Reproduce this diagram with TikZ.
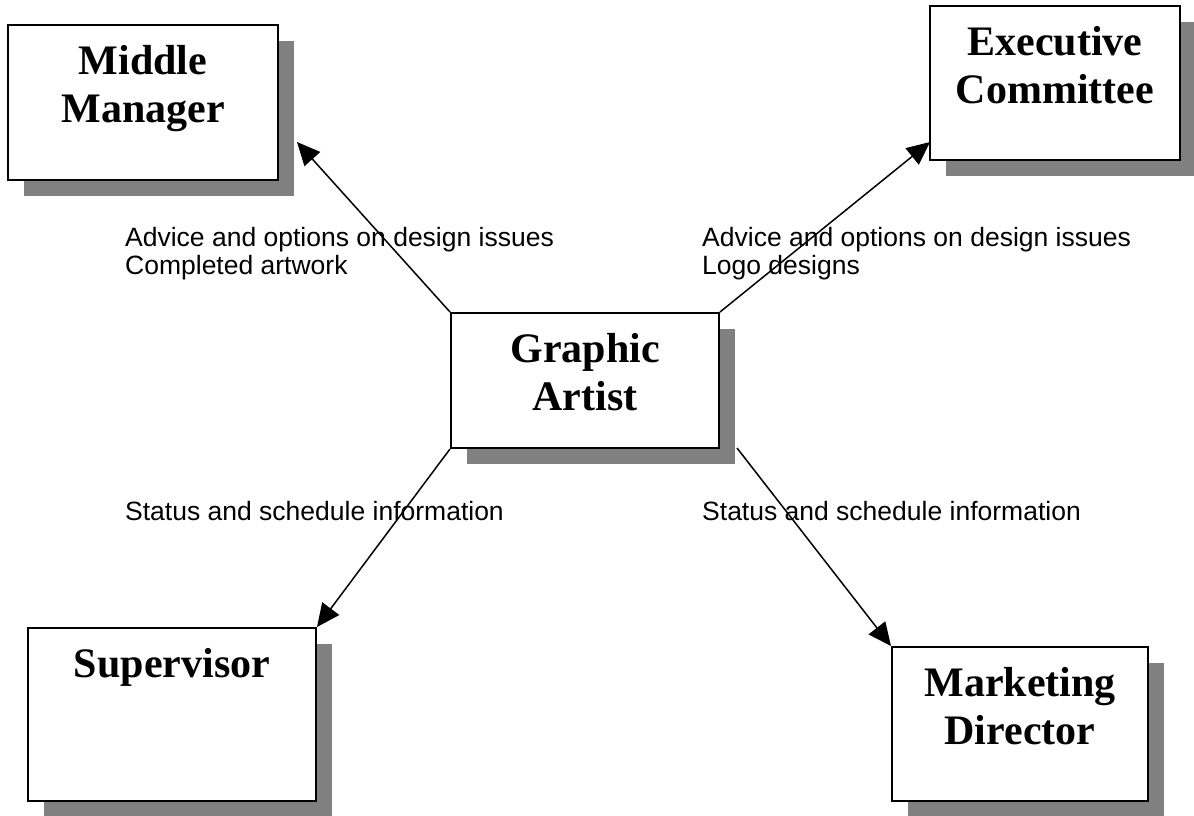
\documentclass[tikz,border=0pt]{standalone}
\usepackage{fontspec}
\setmainfont{Liberation Serif}
\newfontfamily\labelfont{Liberation Sans}
\usetikzlibrary{arrows.meta,shadows}
\tikzset{
  box/.style={draw=black, line width=2pt, fill=white, rectangle, inner sep=0pt,
    general shadow={fill=black!50, shadow xshift=16pt, shadow yshift=-16pt}},
  title/.style={anchor=north, inner sep=0pt, align=center,
    font=\fontsize{42}{48.5}\selectfont\bfseries},
  lbl/.style={anchor=north west, inner sep=0pt, align=left,
    font=\labelfont\fontsize{26.5}{28.5}\selectfont},
  conn/.style={line width=1.5pt, -{Triangle[length=23pt,width=21pt]}}
}
\begin{document}
\begin{tikzpicture}[x=1pt,y=-1pt]
\useasboundingbox (0,0) rectangle (1194,816);
% boxes
\node[box, minimum width=270pt, minimum height=155pt] (mm) at (143,102.5) {};
\node[box, minimum width=250pt, minimum height=154pt] (ec) at (1055,83) {};
\node[box, minimum width=268pt, minimum height=135pt] (ga) at (585,380.5) {};
\node[box, minimum width=288pt, minimum height=173pt] (sup) at (172,714.5) {};
\node[box, minimum width=256pt, minimum height=154pt] (md) at (1020,724) {};
% titles
\node[title] (mmt) at ([yshift=-21pt]mm.north) {Middle\\Manager};
\node[title] (ect) at ([yshift=-21pt]ec.north) {Executive\\Committee};
\node[title] (gat) at ([yshift=-21pt]ga.north) {Graphic\\Artist};
\node[title] (supt) at ([yshift=-21pt]sup.north) {Supervisor};
\node[title] (mdt) at ([yshift=-21pt]md.north) {Marketing\\Director};
% arrow ends
\coordinate (mmtip) at (297,142);
\coordinate (ectip) at (930,142);
\coordinate (gashadow) at (737,448);
% connectors
\draw[conn] (ga.north west) -- (mmtip);
\draw[conn] (ga.north east) -- (ectip);
\draw[conn] (ga.south west) -- (sup.north east);
\draw[conn] (gashadow) -- (md.north west);
% labels
\node[lbl] (l1) at (125,227) {Advice and options on design issues\\Completed artwork};
\node[lbl] (l2) at (702,227) {Advice and options on design issues\\Logo designs};
\node[lbl] (l3) at (125,501) {Status and schedule information};
\node[lbl] (l4) at (702,501) {Status and schedule information};
\end{tikzpicture}
\end{document}
